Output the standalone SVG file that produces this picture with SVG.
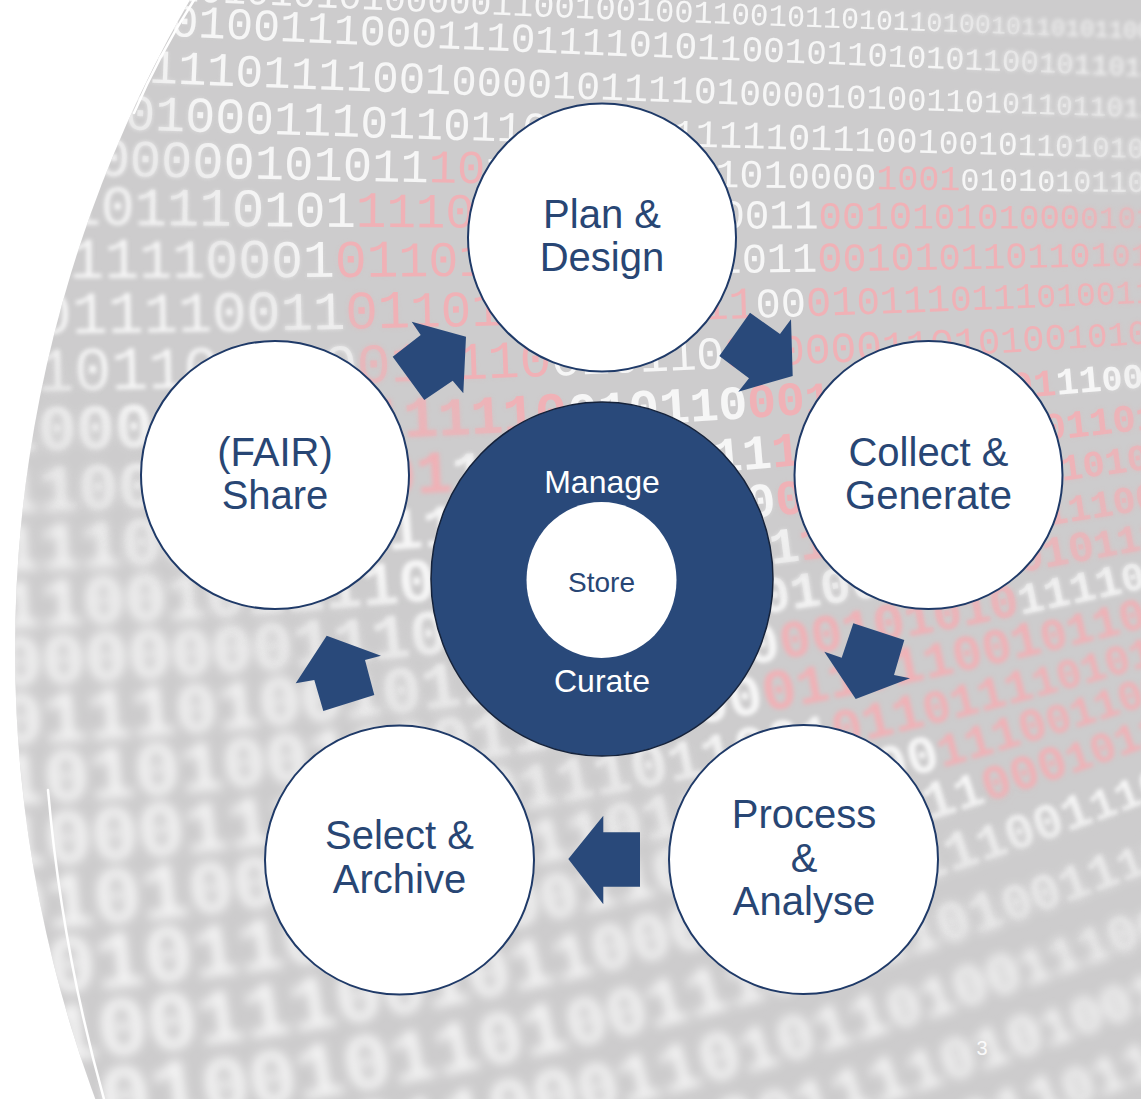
<svg xmlns="http://www.w3.org/2000/svg" xmlns:xlink="http://www.w3.org/1999/xlink" width="1141" height="1099" viewBox="0 0 1141 1099">
  <style>
    .digits text { font-family: "Liberation Mono", "DejaVu Sans Mono", monospace; fill: #f6f6f6; }
    .digits .hot { fill: #f0b1b6; }
    .digits .heavy { font-weight: bold; }
    .ring { fill: #ffffff; stroke: #1f3a68; stroke-width: 2; }
    .label { font-family: "Liberation Sans", Arial, sans-serif; font-size: 40px; fill: #284674; text-anchor: middle; }
    .core-label { font-family: "Liberation Sans", Arial, sans-serif; font-size: 32px; fill: #ffffff; text-anchor: middle; }
    .arrow { fill: #29497a; }
    .glint { fill: none; stroke: #ffffff; stroke-width: 2.5; stroke-linecap: round; }
  </style>
  <defs>
    <clipPath id="disk"><circle cx="1310" cy="650" r="1295"/></clipPath>

    <!-- depth-of-field: three blur levels blended by a focus gradient -->
    <filter id="fSharp" x="-5%" y="-5%" width="110%" height="110%"><feGaussianBlur stdDeviation="0.5"/></filter>
    <filter id="fMid" x="-5%" y="-5%" width="110%" height="110%"><feGaussianBlur stdDeviation="2"/></filter>
    <filter id="fSoft" x="-5%" y="-5%" width="110%" height="110%"><feGaussianBlur stdDeviation="5.5"/></filter>
    <radialGradient id="gSharp" gradientUnits="userSpaceOnUse" cx="640" cy="170" r="1000" gradientTransform="translate(640 170) rotate(30) scale(1.35 0.7) translate(-640 -170)">
      <stop offset="0.38" stop-color="#fff"/><stop offset="0.52" stop-color="#000"/>
    </radialGradient>
    <radialGradient id="gMid" gradientUnits="userSpaceOnUse" cx="640" cy="170" r="1000" gradientTransform="translate(640 170) rotate(30) scale(1.35 0.7) translate(-640 -170)">
      <stop offset="0.33" stop-color="#000"/><stop offset="0.5" stop-color="#fff"/><stop offset="0.68" stop-color="#fff"/><stop offset="0.88" stop-color="#000"/>
    </radialGradient>
    <radialGradient id="gSoft" gradientUnits="userSpaceOnUse" cx="640" cy="170" r="1000" gradientTransform="translate(640 170) rotate(30) scale(1.35 0.7) translate(-640 -170)">
      <stop offset="0.68" stop-color="#000"/><stop offset="0.88" stop-color="#fff"/>
    </radialGradient>
    <mask id="mSharp" maskUnits="userSpaceOnUse" x="0" y="0" width="1141" height="1099"><rect width="1141" height="1099" fill="url(#gSharp)"/></mask>
    <mask id="mMid" maskUnits="userSpaceOnUse" x="0" y="0" width="1141" height="1099"><rect width="1141" height="1099" fill="url(#gMid)"/></mask>
    <mask id="mSoft" maskUnits="userSpaceOnUse" x="0" y="0" width="1141" height="1099"><rect width="1141" height="1099" fill="url(#gSoft)"/></mask>

    <!-- baselines of the receding rows of digits -->
    <path id="p0" d="M0,-8 Q570,20.5 1141,38 L1221,40.5"/>
    <path id="p1" d="M0,28 Q570,55.4 1141,76 L1221,78.9"/>
    <path id="p2" d="M0,76.5 Q570,100.4 1141,117 L1221,119.3"/>
    <path id="p3" d="M0,125 Q570,145 1141,158 L1221,159.8"/>
    <path id="p4" d="M0,173 Q570,187 1141,192 L1221,192.7"/>
    <path id="p5" d="M0,223.5 Q570,230.3 1141,228 L1221,227.7"/>
    <path id="p6" d="M0,278 Q570,278 1141,265.5 L1221,263.7"/>
    <path id="p7" d="M0,334 Q570,328.3 1141,303 L1221,299.5"/>
    <path id="p8" d="M0,391.5 Q570,382.4 1141,344 L1221,338.6"/>
    <path id="p9" d="M0,451 Q570,438.5 1141,387.5 L1221,380.4"/>
    <path id="p10" d="M0,512 Q570,496 1141,430 L1221,420.8"/>
    <path id="p11" d="M0,570.5 Q570,551 1141,470 L1221,458.7"/>
    <path id="p12" d="M0,628 Q570,605 1141,510.5 L1221,497.3"/>
    <path id="p13" d="M0,686 Q570,660 1141,550 L1221,534.6"/>
    <path id="p14" d="M0,744.5 Q570,716 1141,589 L1221,571.2"/>
    <path id="p15" d="M0,805 Q570,773.7 1141,628.5 L1221,608.2"/>
    <path id="p16" d="M0,867.7 Q570,833.5 1141,668 L1221,644.8"/>
    <path id="p17" d="M0,931.4 Q570,894.4 1141,707 L1221,680.8"/>
    <path id="p18" d="M0,997 Q570,957 1141,749 L1221,719.9"/>
    <path id="p19" d="M0,1065.7 Q570,1023 1141,804.5 L1221,773.9"/>
    <path id="p20" d="M0,1136 Q570,1090.4 1141,875 L1221,844.8"/>
    <path id="p21" d="M0,1207 Q570,1158.5 1141,945 L1221,915.1"/>
    <path id="p22" d="M0,1280 Q570,1228.7 1141,1013.5 L1221,983.3"/>
    <path id="p23" d="M0,1352 Q570,1300.7 1141,1081 L1221,1050.2"/>

    <g id="binary" class="digits">
      <text><textPath xlink:href="#p0"><tspan font-size="42">1010</tspan><tspan font-size="41">1101</tspan><tspan font-size="39">0101</tspan><tspan font-size="38">0101</tspan><tspan font-size="36">0000</tspan><tspan font-size="35">0110</tspan><tspan font-size="34">0100</tspan><tspan font-size="32">1001</tspan><tspan font-size="31">1001</tspan><tspan font-size="30">0110</tspan><tspan font-size="28">1011</tspan><tspan font-size="27">0100</tspan><tspan font-size="25">1011</tspan><tspan font-size="24">0101</tspan><tspan font-size="24">1001</tspan></textPath></text>
      <text><textPath xlink:href="#p1"><tspan font-size="48">1010</tspan><tspan font-size="46">0101</tspan><tspan font-size="45">0011</tspan><tspan font-size="43">1000</tspan><tspan font-size="41">1110</tspan><tspan font-size="39">1111</tspan><tspan font-size="38">0101</tspan><tspan font-size="36">1001</tspan><tspan font-size="34">0110</tspan><tspan font-size="32">1010</tspan><tspan font-size="31">1100</tspan><tspan font-size="29">1011</tspan><tspan font-size="27">0110</tspan><tspan font-size="27">1001</tspan></textPath></text>
      <text><textPath xlink:href="#p2"><tspan font-size="50">0101</tspan><tspan font-size="48">1111</tspan><tspan font-size="46">0111</tspan><tspan font-size="44">1001</tspan><tspan font-size="42">0000</tspan><tspan font-size="40">1011</tspan><tspan font-size="38">1101</tspan><tspan font-size="36">0000</tspan><tspan font-size="34">1010</tspan><tspan font-size="32">0110</tspan><tspan font-size="30">1011</tspan><tspan font-size="28">0110</tspan><tspan font-size="28">1100</tspan></textPath></text>
      <text><textPath xlink:href="#p3"><tspan font-size="52">1110</tspan><tspan font-size="50">0100</tspan><tspan font-size="48">0111</tspan><tspan font-size="46">0110</tspan><tspan font-size="43">1100</tspan><tspan font-size="41">0111</tspan><tspan font-size="39">1111</tspan><tspan font-size="37">1011</tspan><tspan font-size="35">1001</tspan><tspan font-size="33">0010</tspan><tspan font-size="31">1101</tspan><tspan font-size="29">0101</tspan><tspan font-size="29">1001</tspan></textPath></text>
      <text><textPath xlink:href="#p4"><tspan font-size="54">0000</tspan><tspan font-size="52">0000</tspan><tspan font-size="49">1010</tspan><tspan font-size="47">11<tspan class="hot">10</tspan></tspan><tspan font-size="44">1011</tspan><tspan font-size="42">0110</tspan><tspan font-size="40">1101</tspan><tspan font-size="37">0000</tspan><tspan font-size="35" class="hot">1001</tspan><tspan font-size="32">0101</tspan><tspan font-size="30">0101</tspan><tspan font-size="30">1010</tspan></textPath></text>
      <text><textPath xlink:href="#p5"><tspan font-size="56">1010</tspan><tspan font-size="54">1110</tspan><tspan font-size="51">101<tspan class="hot">1</tspan></tspan><tspan font-size="49" class="hot">1100</tspan><tspan font-size="46">1010</tspan><tspan font-size="44">0100</tspan><tspan font-size="41">0011</tspan><tspan font-size="39" class="hot">0010</tspan><tspan font-size="36" class="hot">1010</tspan><tspan font-size="34" class="hot">1000</tspan><tspan font-size="31" class="hot">0101</tspan><tspan font-size="31" class="hot">1001</tspan></textPath></text>
      <text><textPath xlink:href="#p6"><tspan font-size="58">0111</tspan><tspan font-size="55">1100</tspan><tspan font-size="53">01<tspan class="hot">01</tspan></tspan><tspan font-size="50" class="hot">1011</tspan><tspan font-size="48">0110</tspan><tspan font-size="45">1101</tspan><tspan font-size="42">011<tspan class="hot">0</tspan></tspan><tspan font-size="40" class="hot">0101</tspan><tspan font-size="37" class="hot">0110</tspan><tspan font-size="35" class="hot">1101</tspan><tspan font-size="32" class="hot">0111</tspan><tspan font-size="32" class="hot">0101</tspan></textPath></text>
      <text><textPath xlink:href="#p7"><tspan font-size="60">1011</tspan><tspan font-size="57">1100</tspan><tspan font-size="54">11<tspan class="hot">01</tspan></tspan><tspan font-size="51" class="hot">1011</tspan><tspan font-size="48">0110</tspan><tspan font-size="45">01<tspan class="hot">11</tspan></tspan><tspan font-size="42">00<tspan class="hot">01</tspan></tspan><tspan font-size="39" class="hot">0111</tspan><tspan font-size="36" class="hot">0111</tspan><tspan font-size="33" class="hot">0100</tspan><tspan font-size="33" class="hot">1101</tspan></textPath></text>
      <text><textPath xlink:href="#p8"><tspan font-size="62">0101</tspan><tspan font-size="59">1010</tspan><tspan font-size="56">10<tspan class="hot">01</tspan></tspan><tspan font-size="53" class="hot">0110</tspan><tspan font-size="49">0101</tspan><tspan font-size="46">10<tspan class="hot">01</tspan></tspan><tspan font-size="43" class="hot">0000</tspan><tspan font-size="40" class="hot">1101</tspan><tspan font-size="37" class="hot">0100</tspan><tspan font-size="34" class="hot">1010</tspan><tspan font-size="34" class="hot">1101</tspan></textPath></text>
      <text class="heavy"><textPath xlink:href="#p9"><tspan font-size="64">1000</tspan><tspan font-size="61">1101</tspan><tspan font-size="58">10<tspan class="hot">11</tspan></tspan><tspan font-size="54" class="hot">1110</tspan><tspan font-size="51">0101</tspan><tspan font-size="48">10<tspan class="hot">00</tspan></tspan><tspan font-size="45" class="hot">1010</tspan><tspan font-size="41" class="hot">0110</tspan><tspan font-size="38"><tspan class="hot">01</tspan>11</tspan><tspan font-size="35">0011</tspan><tspan font-size="35">1001</tspan></textPath></text>
      <text class="heavy"><textPath xlink:href="#p10"><tspan font-size="66">1100</tspan><tspan font-size="63">0110</tspan><tspan font-size="60">00<tspan class="hot">01</tspan></tspan><tspan font-size="56">1010</tspan><tspan font-size="53">0110</tspan><tspan font-size="49">11<tspan class="hot">10</tspan></tspan><tspan font-size="46" class="hot">0001</tspan><tspan font-size="43" class="hot">1011</tspan><tspan font-size="39" class="hot">0110</tspan><tspan font-size="36" class="hot">1011</tspan><tspan font-size="36" class="hot">0010</tspan></textPath></text>
      <text class="heavy"><textPath xlink:href="#p11"><tspan font-size="68">1110</tspan><tspan font-size="64">0011</tspan><tspan font-size="60">0111</tspan><tspan font-size="56">0101</tspan><tspan font-size="52">1100</tspan><tspan font-size="49">10<tspan class="hot">01</tspan></tspan><tspan font-size="45" class="hot">1011</tspan><tspan font-size="41" class="hot">0100</tspan><tspan font-size="37" class="hot">1101</tspan><tspan font-size="37" class="hot">0110</tspan></textPath></text>
      <text class="heavy"><textPath xlink:href="#p12"><tspan font-size="70">1100</tspan><tspan font-size="66">1011</tspan><tspan font-size="62">1100</tspan><tspan font-size="58">0101</tspan><tspan font-size="54">1011</tspan><tspan font-size="50">01<tspan class="hot">10</tspan></tspan><tspan font-size="46" class="hot">1101</tspan><tspan font-size="42" class="hot">0101</tspan><tspan font-size="38" class="hot">1100</tspan><tspan font-size="38" class="hot">1010</tspan></textPath></text>
      <text class="heavy"><textPath xlink:href="#p13"><tspan font-size="72">0000</tspan><tspan font-size="68">0001</tspan><tspan font-size="64">1101</tspan><tspan font-size="60">0110</tspan><tspan font-size="55">1001</tspan><tspan font-size="51">0100</tspan><tspan font-size="47" class="hot">0110</tspan><tspan font-size="43" class="hot">1010</tspan><tspan font-size="39" class="hot">1110</tspan><tspan font-size="39" class="hot">0101</tspan></textPath></text>
      <text class="heavy"><textPath xlink:href="#p14"><tspan font-size="74">0111</tspan><tspan font-size="70">0100</tspan><tspan font-size="66">1011</tspan><tspan font-size="61">0010</tspan><tspan font-size="57">1100</tspan><tspan font-size="53" class="hot">0010</tspan><tspan font-size="48" class="hot">1010</tspan><tspan font-size="44">1111</tspan><tspan font-size="40">0101</tspan><tspan font-size="40">1001</tspan></textPath></text>
      <text class="heavy"><textPath xlink:href="#p15"><tspan font-size="76">1010</tspan><tspan font-size="72">1001</tspan><tspan font-size="67">0001</tspan><tspan font-size="63">1100</tspan><tspan font-size="58">000<tspan class="hot">0</tspan></tspan><tspan font-size="54" class="hot">1101</tspan><tspan font-size="50" class="hot">1001</tspan><tspan font-size="45" class="hot">0110</tspan><tspan font-size="41" class="hot">1010</tspan><tspan font-size="41" class="hot">0110</tspan></textPath></text>
      <text class="heavy"><textPath xlink:href="#p16"><tspan font-size="78">1000</tspan><tspan font-size="73">1111</tspan><tspan font-size="68">0100</tspan><tspan font-size="63">1110</tspan><tspan font-size="57">1100</tspan><tspan font-size="52">1<tspan class="hot">011</tspan></tspan><tspan font-size="47" class="hot">0111</tspan><tspan font-size="42" class="hot">1010</tspan><tspan font-size="42" class="hot">1101</tspan></textPath></text>
      <text class="heavy"><textPath xlink:href="#p17"><tspan font-size="80">0101</tspan><tspan font-size="75">0011</tspan><tspan font-size="69">0110</tspan><tspan font-size="64">1101</tspan><tspan font-size="58">0011</tspan><tspan font-size="53">1100</tspan><tspan font-size="47" class="hot">1110</tspan><tspan font-size="42" class="hot">0110</tspan><tspan font-size="42" class="hot">1011</tspan></textPath></text>
      <text class="heavy"><textPath xlink:href="#p18"><tspan font-size="82">1010</tspan><tspan font-size="76">1100</tspan><tspan font-size="71">1000</tspan><tspan font-size="65">0110</tspan><tspan font-size="60">1001</tspan><tspan font-size="54">0111</tspan><tspan font-size="49">1<tspan class="hot">000</tspan></tspan><tspan font-size="43" class="hot">1011</tspan><tspan font-size="43" class="hot">0101</tspan></textPath></text>
      <text class="heavy"><textPath xlink:href="#p19"><tspan font-size="84">0100</tspan><tspan font-size="78">1110</tspan><tspan font-size="73">0101</tspan><tspan font-size="67">1000</tspan><tspan font-size="61">1110</tspan><tspan font-size="56">0111</tspan><tspan font-size="50">1001</tspan><tspan font-size="44">110<tspan class="hot">0</tspan></tspan><tspan font-size="44" class="hot">0101</tspan></textPath></text>
      <text class="heavy"><textPath xlink:href="#p20"><tspan font-size="86">1101</tspan><tspan font-size="80">0010</tspan><tspan font-size="75">1101</tspan><tspan font-size="69">0011</tspan><tspan font-size="63">1001</tspan><tspan font-size="57">1101</tspan><tspan font-size="51">0011</tspan><tspan font-size="45">1011</tspan><tspan font-size="45">0100</tspan></textPath></text>
      <text class="heavy"><textPath xlink:href="#p21"><tspan font-size="88">0011</tspan><tspan font-size="82">1010</tspan><tspan font-size="76">1100</tspan><tspan font-size="70">0110</tspan><tspan font-size="64">1011</tspan><tspan font-size="58">0100</tspan><tspan font-size="52">1110</tspan><tspan font-size="46">0110</tspan><tspan font-size="46">1101</tspan></textPath></text>
      <text class="heavy"><textPath xlink:href="#p22"><tspan font-size="90">1001</tspan><tspan font-size="84">0111</tspan><tspan font-size="78">0010</tspan><tspan font-size="72">1100</tspan><tspan font-size="65">0111</tspan><tspan font-size="59">1010</tspan><tspan font-size="53">1001</tspan><tspan font-size="47">1101</tspan><tspan font-size="47">0011</tspan></textPath></text>
      <text class="heavy"><textPath xlink:href="#p23"><tspan font-size="92">0110</tspan><tspan font-size="86">1100</tspan><tspan font-size="80">1101</tspan><tspan font-size="73">0001</tspan><tspan font-size="67">1110</tspan><tspan font-size="60">0011</tspan><tspan font-size="54">0110</tspan><tspan font-size="48">1010</tspan><tspan font-size="48">1001</tspan></textPath></text>
    </g>
  </defs>

  <!-- backdrop: curved panel of binary digits -->
  <rect width="1141" height="1099" fill="#ffffff"/>
  <g id="backdrop" clip-path="url(#disk)">
    <rect width="1141" height="1099" fill="#cdcccd"/>
    <use xlink:href="#binary" filter="url(#fSoft)" mask="url(#mSoft)"/>
    <use xlink:href="#binary" filter="url(#fMid)" mask="url(#mMid)"/>
    <use xlink:href="#binary" filter="url(#fSharp)" mask="url(#mSharp)"/>
  </g>
  <path class="glint" d="M194,0 Q158,56.5 134,113"/>
  <path class="glint" d="M48,790 Q62,950 104,1099"/>

  <!-- connectors: block arrows around the cycle -->
  <g id="connectors">
    <polygon class="arrow" points="411.7,321.7 466,336.7 463.3,393.3 452.7,380.7 424.3,400 392.7,356.7 420.7,335"/>
    <polygon class="arrow" points="750,312.7 780,334 791,319.3 792.7,376 738.3,391.7 749,378.3 719.3,356"/>
    <polygon class="arrow" points="853.3,623.3 904.3,640 894,675 910,678.3 855.7,699 824.3,651.7 841.7,657.7"/>
    <polygon class="arrow" points="640,832.3 603.3,832.3 603.3,815.7 568.3,859 603.3,904.3 603.3,886.7 640,886.7"/>
    <polygon class="arrow" points="326.7,635.7 381,655.7 365,660 374.3,695 323.3,711 314.3,680 295.7,683.3"/>
  </g>

  <g id="node-plan">
    <circle class="ring" cx="602" cy="237.5" r="134"/>
    <text class="label" x="602" y="228">Plan &amp;</text>
    <text class="label" x="602" y="271">Design</text>
  </g>
  <g id="node-collect">
    <circle class="ring" cx="928.5" cy="475" r="134"/>
    <text class="label" x="928.5" y="466">Collect &amp;</text>
    <text class="label" x="928.5" y="509">Generate</text>
  </g>
  <g id="node-process">
    <circle class="ring" cx="803.5" cy="859.5" r="134.5"/>
    <text class="label" x="804" y="828">Process</text>
    <text class="label" x="804" y="872">&amp;</text>
    <text class="label" x="804" y="915">Analyse</text>
  </g>
  <g id="node-select">
    <circle class="ring" cx="399.5" cy="860" r="134.5"/>
    <text class="label" x="399.5" y="849">Select &amp;</text>
    <text class="label" x="399.5" y="893">Archive</text>
  </g>
  <g id="node-share">
    <circle class="ring" cx="275" cy="475" r="134"/>
    <text class="label" x="275" y="466">(FAIR)</text>
    <text class="label" x="275" y="509">Share</text>
  </g>
  <g id="node-core">
    <ellipse cx="602" cy="579" rx="171" ry="177" fill="#29497a" stroke="#15223a" stroke-width="1.5"/>
    <ellipse cx="601.5" cy="580" rx="75" ry="78" fill="#ffffff"/>
    <text class="core-label" x="602" y="493">Manage</text>
    <text class="core-label" x="602" y="692">Curate</text>
    <text x="601.5" y="592" font-family="'Liberation Sans', Arial, sans-serif" font-size="28" fill="#284674" text-anchor="middle">Store</text>
  </g>

  <text x="982" y="1055" font-family="'Liberation Sans', Arial, sans-serif" font-size="20" fill="#ffffff" fill-opacity="0.9" text-anchor="middle">3</text>
</svg>
